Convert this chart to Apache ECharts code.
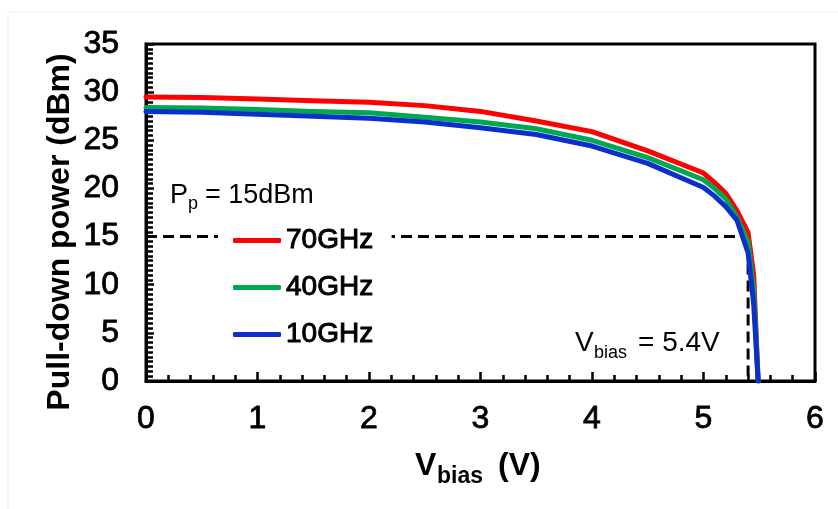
<!DOCTYPE html>
<html>
<head>
<meta charset="utf-8">
<script src="https://cdn.jsdelivr.net/npm/echarts@6/dist/echarts.min.js"></script>
<style>html,body{margin:0;padding:0;background:#fff;}#c{width:838px;height:509px;}</style>
</head>
<body>
<div id="c"></div>
<script>
// ---- data ----
const vbias = [0, 0.5, 1.0, 1.5, 2.0, 2.5, 3.0, 3.5, 4.0, 4.5, 5.0, 5.1, 5.2, 5.3, 5.4, 5.45, 5.49];
const p70GHz = [29.5, 29.45, 29.3, 29.1, 28.95, 28.6, 28.0, 27.0, 25.9, 23.9, 21.6, 20.6, 19.5, 17.7, 15.4, 11.0, 0];
const p40GHz = [28.4, 28.35, 28.2, 28.0, 27.85, 27.4, 26.9, 26.2, 25.0, 23.2, 20.9, 20.0, 18.9, 17.0, 14.4, 9.5, 0];
const p10GHz = [28.0, 27.9, 27.7, 27.5, 27.3, 26.9, 26.3, 25.6, 24.4, 22.6, 20.1, 19.2, 18.1, 16.7, 13.3, 8.0, 0];
const seriesNames = ['70GHz', '40GHz', '10GHz'];
const guideX = [0, 5.4, 5.4];
const guideY = [15, 15, 0];
const xTicks = [0, 1, 2, 3, 4, 5, 6];
const yTicks = [0, 5, 10, 15, 20, 25, 30, 35];

const FONT = '"Liberation Sans", Arial, sans-serif';
const colors = ['#ff0000', '#00a850', '#0a30cc'];
const pairs = (xs, ys) => xs.map((x, i) => [x, ys[i]]);

const chart = echarts.init(document.getElementById('c'), null, {renderer: 'canvas'});

const curveSeries = [p70GHz, p40GHz, p10GHz].map((ys, i) => ({
  name: seriesNames[i],
  type: 'line',
  data: pairs(vbias, ys),
  showSymbol: false,
  symbol: 'none',
  smooth: false,
  lineStyle: {color: colors[i], width: 5, join: 'round', cap: 'round'},
  itemStyle: {color: colors[i]},
  z: 3 + i
}));

function txt(text, x, y, size, weight) {
  return {
    type: 'text', x: x, y: y, silent: true, z: 10,
    style: {text: text, fill: '#000', font: (weight || 'normal') + ' ' + size + 'px ' + FONT,
            align: 'left', verticalAlign: 'middle'}
  };
}

const option = {
  animation: false,
  backgroundColor: '#fff',
  grid: {left: 146, top: 44, width: 669, height: 337, show: true, borderColor: '#000', borderWidth: 3, containLabel: false},
  xAxis: {
    type: 'value', min: xTicks[0], max: xTicks[xTicks.length - 1], interval: 1,
    axisLine: {show: true, onZero: false, lineStyle: {color: '#000', width: 3}},
    axisTick: {show: true, inside: true, length: 9, lineStyle: {color: '#000', width: 2.5}},
    minorTick: {show: true, splitNumber: 5, length: 6, lineStyle: {color: '#000', width: 2.5}},
    splitLine: {show: false}, minorSplitLine: {show: false},
    axisLabel: {fontSize: 32, color: '#000', margin: 22, fontFamily: FONT, textBorderColor: '#000', textBorderWidth: 0.8}
  },
  yAxis: {
    type: 'value', min: yTicks[0], max: yTicks[yTicks.length - 1], interval: 5,
    axisLine: {show: true, onZero: false, lineStyle: {color: '#000', width: 3}},
    axisTick: {show: true, inside: true, length: 8, lineStyle: {color: '#000', width: 2.5}},
    minorTick: {show: true, splitNumber: 10, length: 7, lineStyle: {color: '#000', width: 2.5}},
    splitLine: {show: false}, minorSplitLine: {show: false},
    axisLabel: {fontSize: 32, color: '#000', margin: 27, fontFamily: FONT, textBorderColor: '#000', textBorderWidth: 0.8}
  },
  legend: {
    data: seriesNames, orient: 'vertical', left: 218, top: 216,
    itemWidth: 48, itemHeight: 5, icon: 'roundRect', itemGap: 18,
    backgroundColor: '#fff', padding: [10, 18, 10, 15],
    selectedMode: false,
    textStyle: {fontSize: 28, fontWeight: 'normal', color: '#000', fontFamily: FONT, textBorderColor: '#000', textBorderWidth: 1}
  },
  graphic: [
    {type: 'rect', silent: true, z: -10, shape: {x: 8, y: 12, width: 900, height: 600},
     style: {fill: 'none', stroke: '#eeeeee', lineWidth: 1}},
    {type: 'text', x: 60, y: 232, rotation: Math.PI / 2, silent: true, z: 10,
     style: {text: 'Pull-down power (dBm)', fill: '#000', font: 'bold 32px ' + FONT, align: 'center', verticalAlign: 'middle'}},
    txt('V', 415, 466.5, 32, 'bold'),
    txt('bias', 437, 477, 23, 'bold'),
    txt('(V)', 498, 466.5, 32, 'bold'),
    txt('P', 170, 196, 27),
    txt('p', 188, 204, 18),
    txt('= 15dBm', 205, 196, 27),
    txt('V', 575, 343, 28),
    txt('bias', 594, 353, 18),
    txt('= 5.4V', 638, 343, 28)
  ],
  series: [
    {
      name: 'guide', type: 'line', data: pairs(guideX, guideY), symbol: 'none', silent: true,
      lineStyle: {color: '#000', width: 3, type: [11, 6]}, z: 1
    }
  ].concat(curveSeries)
};
chart.setOption(option);
</script>
</body>
</html>
